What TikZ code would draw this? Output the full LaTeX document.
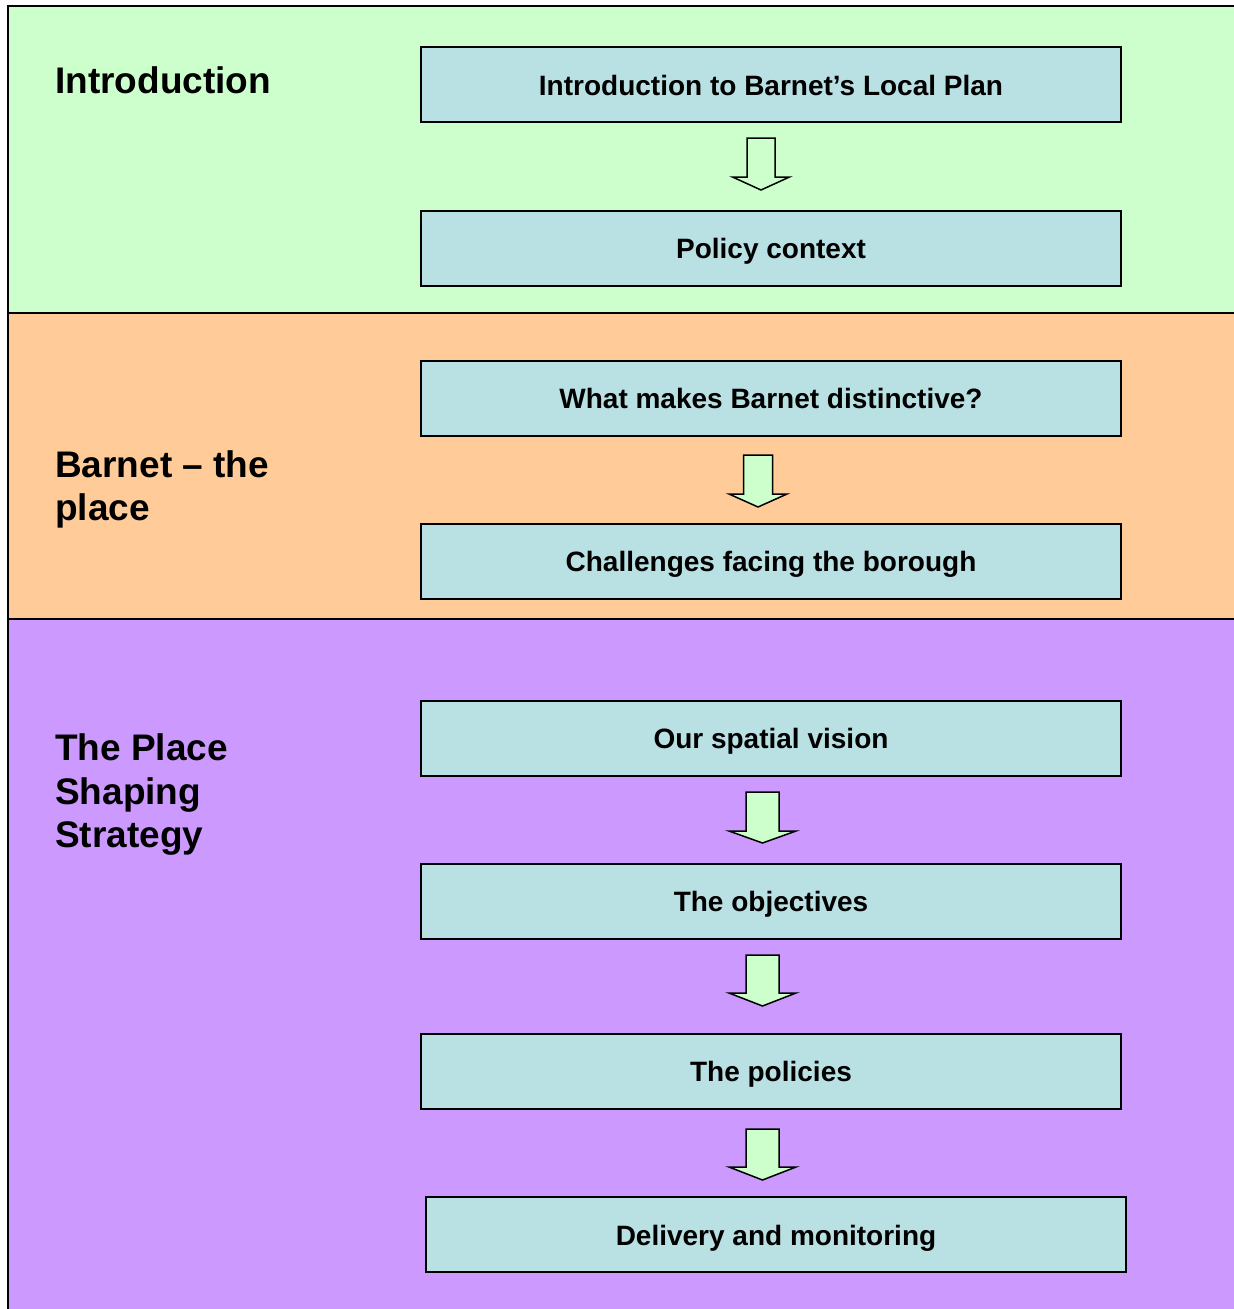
\documentclass[tikz,border=0pt]{standalone}
\usepackage{fontspec}
\setmainfont{Liberation Sans}
\usetikzlibrary{calc}
\definecolor{bgreen}{HTML}{CCFFCC}
\definecolor{borange}{HTML}{FFCC99}
\definecolor{bpurple}{HTML}{CC99FF}
\definecolor{boxfill}{HTML}{B9E1E4}
\definecolor{arrfill}{HTML}{CCFFCC}
\tikzset{
  band/.style={draw=black, line width=2pt},
  stagebox/.style={draw=black, line width=2pt, fill=boxfill, minimum width=700pt, minimum height=75pt, inner sep=0pt, text height=23pt, text depth=2pt, font=\fontsize{28}{32}\selectfont\bfseries},
  heading/.style={anchor=base west, inner sep=0pt, align=left, font=\fontsize{37}{43.5}\selectfont\bfseries},
  blockarrow/.style={draw=black, line width=1.5pt, fill=arrfill, line join=miter}
}
\newcommand\barrow[6]{% cx, top, wingy, tipy, halfshaft, halfhead
  \draw[blockarrow] (#1-#5,#2) -- (#1+#5,#2) -- (#1+#5,#3) -- (#1+#6,#3) -- (#1,#4) -- (#1-#6,#3) -- (#1-#5,#3) -- cycle;}
\begin{document}
\begin{tikzpicture}[x=1pt,y=-1pt]
\useasboundingbox (0,0) rectangle (1234,1309);
\fill[white] (0,0) rectangle (1234,1309);
\begin{scope}
\clip (0,0) rectangle (1234,1309);
\draw[band, fill=bgreen] (8,6) rectangle (1240,313);
\draw[band, fill=borange] (8,313) rectangle (1240,619);
\draw[band, fill=bpurple] (8,619) rectangle (1240,1320);
\end{scope}
% multi-line nodes: base anchor is the baseline of the last line
\node[heading] (h1) at (55,93) {Introduction};
\node[heading] (h2) at (55,520.5) {Barnet -- the\\place};
\node[heading] (h3) at (55,847.5) {The Place\\Shaping\\Strategy};
\node[stagebox] (b1) at (771,84.5) {Introduction to Barnet’s Local Plan};
\node[stagebox] (b2) at (771,248) {Policy context};
\node[stagebox] (b3) at (771,398) {What makes Barnet distinctive?};
\node[stagebox] (b4) at (771,561) {Challenges facing the borough};
\node[stagebox] (b5) at (771,738) {Our spatial vision};
\node[stagebox] (b6) at (771,901) {The objectives};
\node[stagebox] (b7) at (771,1071) {The policies};
\node[stagebox] (b8) at (776,1234.5) {Delivery and monitoring};
\barrow{761}{138}{177}{190}{14}{28.5}
\barrow{758}{455}{494}{507}{14.5}{29}
\barrow{762.5}{792}{831}{843}{16.5}{33.5}
\barrow{762.5}{955}{993}{1006}{16.5}{33.5}
\barrow{762.5}{1129}{1167}{1180}{16.5}{33.5}
\end{tikzpicture}
\end{document}
